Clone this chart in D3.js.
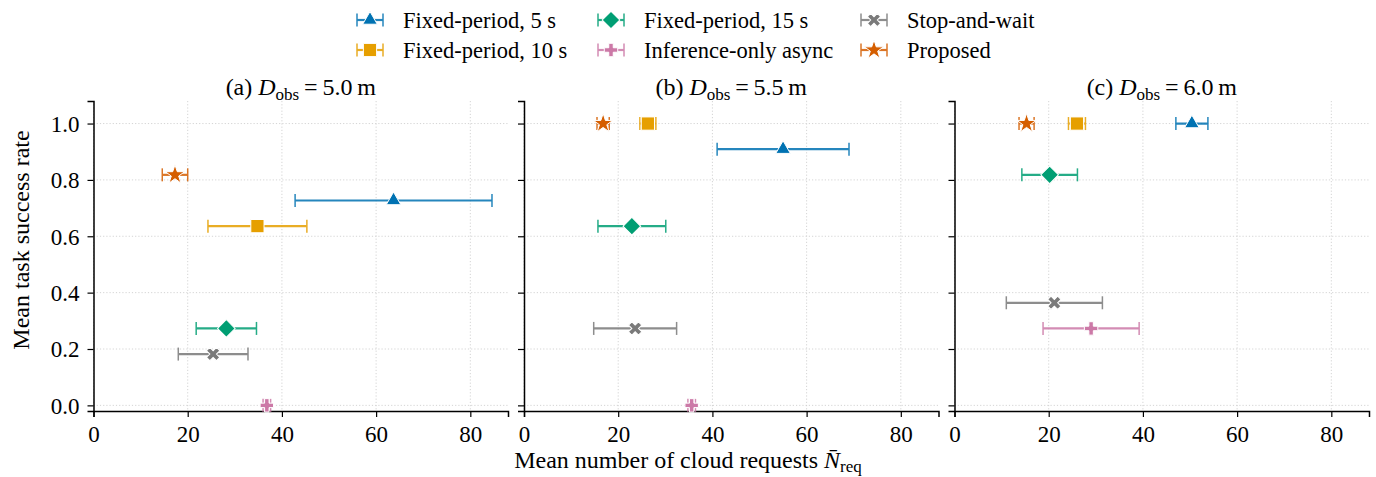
<!DOCTYPE html>
<html>
<head>
<meta charset="utf-8">
<script src="https://cdn.jsdelivr.net/npm/d3@7"></script>
<style>
  body { margin: 0; background: #ffffff; }
  text { font-family: "Liberation Serif", "DejaVu Serif", serif; fill: #000000; }
</style>
</head>
<body>
<div id="canvas"></div>
<script>
// Panels
var panel_tags = ["(a)", "(b)", "(c)"];
var d_obs = ["5.0", "5.5", "6.0"];

// Methods (legend order, column-major in 3 columns)
var methods = ["Fixed-period, 5 s", "Fixed-period, 10 s", "Fixed-period, 15 s",
  "Inference-only async", "Stop-and-wait", "Proposed"];
var colors = ["#0072b2", "#e69f00", "#009e73", "#cc79a7", "#7a7a7a", "#d55e00"];
var shapes = ["triangle", "square", "diamond", "plus", "x", "star"];

// Mean task success rate, [method][panel]
var success_rate = [
  [0.727, 0.909, 1.0],
  [0.636, 1.0, 1.0],
  [0.273, 0.636, 0.818],
  [0.0, 0.0, 0.273],
  [0.182, 0.273, 0.364],
  [0.818, 1.0, 1.0]
];
// Mean number of cloud requests, [method][panel]
var mean_req = [
  [63.7, 55.0, 50.4],
  [34.8, 26.3, 26.0],
  [28.2, 22.9, 20.2],
  [36.8, 35.6, 29.0],
  [25.4, 23.6, 21.2],
  [17.3, 16.8, 15.3]
];
// Error bar half-width (std), [method][panel]
var std_req = [
  [20.9, 14.0, 3.4],
  [10.5, 1.7, 1.8],
  [6.4, 7.2, 5.9],
  [0.8, 0.8, 10.2],
  [7.4, 8.8, 10.2],
  [2.7, 1.3, 1.6]
];

var x_ticks = [0, 20, 40, 60, 80];
var y_ticks = [0.0, 0.2, 0.4, 0.6, 0.8, 1.0];

var canvas_w = 1376;
var canvas_h = 477;

var svg = d3.select("#canvas").append("svg")
  .attr("width", canvas_w)
  .attr("height", canvas_h);

// Panel geometry
var panel_left = [93.5, 524, 954.5];
var panel_w = 414.5;
var top_y = 101;
var bottom_y = 411;

var y = d3.scaleLinear().domain([-0.02, 1.08]).range([bottom_y, top_y]);

function markerPath(shape) {
  if (shape === "triangle") return d3.symbol(d3.symbolTriangle, 92)();
  if (shape === "square") return d3.symbol(d3.symbolSquare, 175)();
  if (shape === "diamond") return d3.symbol(d3.symbolSquare, 155)();
  if (shape === "plus") return d3.symbol(d3.symbolCross, 100)();
  if (shape === "x") return d3.symbol(d3.symbolCross, 110)();
  return d3.symbol(d3.symbolStar, 115)();
}
function markerRotate(shape) {
  return (shape === "diamond" || shape === "x") ? 45 : 0;
}

function drawErrorbar(g, cx, cy, lo, hi, i) {
  var eb = g.append("g").attr("opacity", 0.85);
  eb.append("line")
    .attr("x1", lo).attr("x2", hi).attr("y1", cy).attr("y2", cy)
    .style("stroke", colors[i]).style("stroke-width", 2.2);
  [lo, hi].forEach(function(cap) {
    eb.append("line")
      .attr("x1", cap).attr("x2", cap).attr("y1", cy - 6.5).attr("y2", cy + 6.5)
      .style("stroke", colors[i]).style("stroke-width", 1.5);
  });
  g.append("path")
    .attr("d", markerPath(shapes[i]))
    .attr("transform", "translate(" + cx + "," + cy + ") rotate(" + markerRotate(shapes[i]) + ")")
    .style("fill", colors[i])
    .style("stroke", "#ffffff")
    .style("stroke-width", 1);
}

for (var p = 0; p < 3; p++) {
  var x = d3.scaleLinear().domain([0, 88]).range([panel_left[p], panel_left[p] + panel_w]);
  var g = svg.append("g");

  // Grid
  g.selectAll(".vgrid").data(x_ticks).enter().append("line")
    .attr("x1", function(d) { return x(d); })
    .attr("x2", function(d) { return x(d); })
    .attr("y1", top_y).attr("y2", bottom_y)
    .style("stroke", "#cfcfcf").style("stroke-width", 0.9)
    .style("stroke-dasharray", "1.2,2");
  g.selectAll(".hgrid").data(y_ticks).enter().append("line")
    .attr("x1", panel_left[p]).attr("x2", panel_left[p] + panel_w)
    .attr("y1", function(d) { return y(d); })
    .attr("y2", function(d) { return y(d); })
    .style("stroke", "#cfcfcf").style("stroke-width", 0.9)
    .style("stroke-dasharray", "1.2,2");

  // Axes
  var x_axis = g.append("g")
    .attr("transform", "translate(0," + bottom_y + ")")
    .call(d3.axisBottom(x).tickValues(x_ticks).tickSize(6).tickPadding(8)
      .tickFormat(d3.format("d")));
  var y_axis = g.append("g")
    .attr("transform", "translate(" + panel_left[p] + ",0)")
    .call(d3.axisLeft(y).tickValues(y_ticks).tickSize(6).tickPadding(8)
      .tickFormat(p === 0 ? d3.format(".1f") : function() { return ""; }));
  [x_axis, y_axis].forEach(function(ax) {
    ax.select(".domain").style("stroke", "#000").style("stroke-width", 1.5);
    ax.selectAll(".tick line").style("stroke", "#000").style("stroke-width", 1.2);
    ax.selectAll(".tick text")
      .style("font-family", "Liberation Serif").style("font-size", "23px").style("fill", "#000");
  });
  x_axis.selectAll(".tick text").attr("dy", "0.75em");
  y_axis.selectAll(".tick text").attr("dy", "0.34em");

  // Data
  for (var i = 0; i < methods.length; i++) {
    drawErrorbar(g,
      x(mean_req[i][p]), y(success_rate[i][p]),
      x(mean_req[i][p] - std_req[i][p]), x(mean_req[i][p] + std_req[i][p]), i);
  }

  // Title
  var title = svg.append("text")
    .attr("x", panel_left[p] + panel_w / 2)
    .attr("y", 95)
    .attr("text-anchor", "middle")
    .style("font-size", "24px");
  title.append("tspan").text(panel_tags[p] + " ");
  title.append("tspan").style("font-style", "italic").text("D");
  title.append("tspan").attr("dy", 5).style("font-size", "17px").text("obs");
  title.append("tspan").attr("dy", -5).text("\u2009=\u2009" + d_obs[p] + "\u2009m");
}

// Axis labels
var xlab = svg.append("text")
  .attr("x", 688).attr("y", 468)
  .attr("text-anchor", "middle")
  .style("font-size", "24px");
xlab.append("tspan").text("Mean number of cloud requests ");
xlab.append("tspan").style("font-style", "italic").text("N\u0304");
xlab.append("tspan").attr("dy", 4).style("font-size", "17px").text("req");

svg.append("text")
  .attr("transform", "translate(29,240) rotate(-90)")
  .attr("text-anchor", "middle")
  .style("font-size", "24px")
  .text("Mean task success rate");

// Legend
var leg_cols = [370, 611, 874];
var leg_rows = [20, 50];
for (var i = 0; i < methods.length; i++) {
  var lx = leg_cols[Math.floor(i / 2)];
  var ly = leg_rows[i % 2];
  var lg = svg.append("g");
  drawErrorbar(lg, lx, ly, lx - 13, lx + 13, i);
  lg.append("text")
    .attr("x", lx + 33)
    .attr("y", ly)
    .attr("dy", "0.35em")
    .style("font-size", "22.5px")
    .text(methods[i]);
}
</script>
</body>
</html>
